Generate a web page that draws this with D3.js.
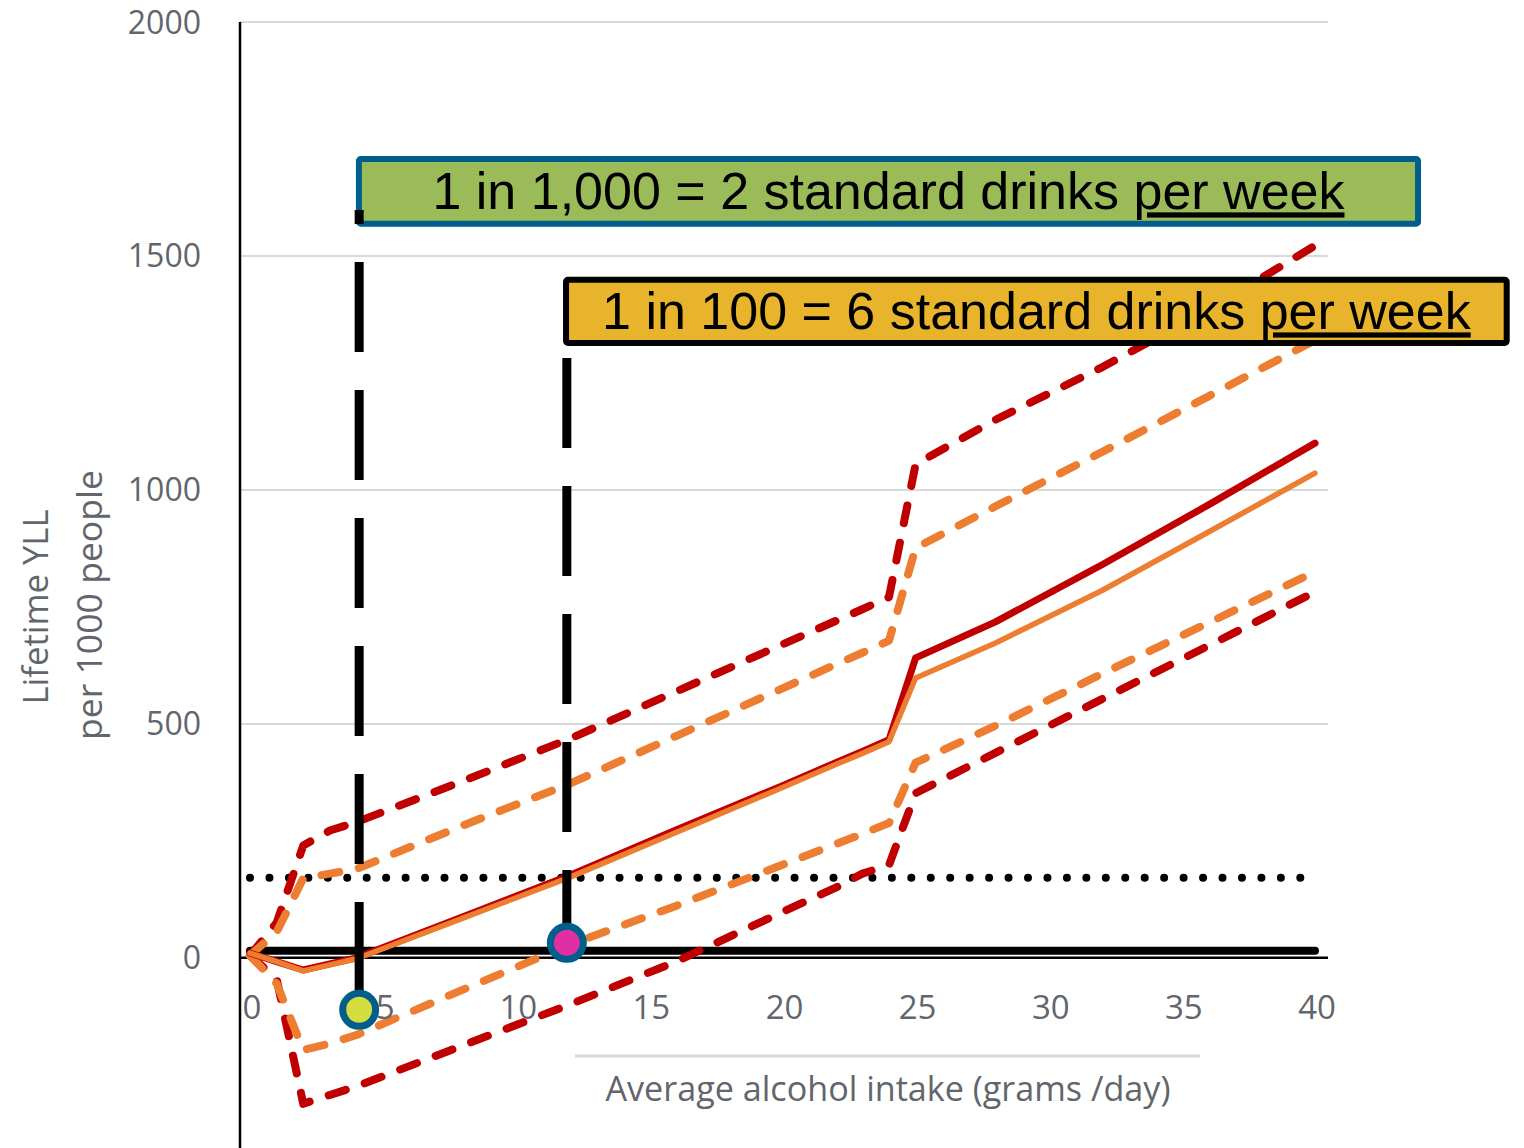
<!DOCTYPE html>
<html>
<head>
<meta charset="utf-8">
<script src="https://cdn.jsdelivr.net/npm/d3@7"></script>
<style>
  body { margin: 0; background: #fff; }
  svg { display: block; }
</style>
</head>
<body>
<div id="chart"></div>
<script>
// average intake (g/day) and lifetime YLL per 1000 people
const intake      = [0, 1, 2, 3, 4, 8, 12, 16, 20, 22, 23, 24, 25, 28, 32, 36, 40];
const redMean     = [10, -8, -26, -13, 0, 88, 176, 273, 368, 417, 441, 466, 641, 718, 840, 968, 1100];
const orangeMean  = [10, -8, -28, -15, -2, 85, 172, 268, 364, 413, 437, 462, 598, 673, 785, 910, 1036];
const redUpper    = [5, 75, 240, 272, 290, 378, 468, 569, 670, 720, 745, 771, 1055, 1150, 1262, 1385, 1522];
const redLower    = [5, -45, -312, -293, -275, -187, -100, -8, 98, 150, 180, 198, 352, 438, 553, 667, 782];
const orangeUpper = [5, 55, 170, 180, 190, 283, 372, 474, 576, 627, 652, 678, 876, 965, 1081, 1200, 1320];
const orangeLower = [5, -55, -197, -183, -165, -68, 28, 111, 199, 243, 265, 288, 417, 496, 607, 716, 825];

const xTicks = [0, 5, 10, 15, 20, 25, 30, 35, 40];
const yTicks = [0, 500, 1000, 1500, 2000];

const dottedLevel = 171;
const zeroBand = 15;

const markerX = [4.1, 11.9];
const markerY = [-111, 32];
const markerFill = ["#d4dc3e", "#e02ea3"];

const boxText = ["1 in 1,000 = 2 standard drinks ", "1 in 100 = 6 standard drinks "];
const boxUnder = ["per week", "per week"];
const boxX = [[4.09, 43.87], [11.87, 47.2]];
const boxY = [[1707, 1569], [1449, 1314]];
const boxFill = ["#9bbb59", "#e8b42b"];
const boxStroke = ["#005e8a", "#000000"];
const guideTop = [1598, 1314];

const width = 1524, height = 1148;

const svg = d3.select("#chart").append("svg")
  .attr("width", width)
  .attr("height", height);

const x = d3.scaleLinear().domain([0, 40]).range([250, 1315]);
const y = d3.scaleLinear().domain([-400, 2000]).range([1145, 22]);

const plotLeft = 240, plotRight = 1328;
const grey = "#62656c";

// gridlines
svg.selectAll(".grid")
  .data(yTicks.filter(d => d > 0))
  .enter().append("line")
  .attr("x1", plotLeft).attr("x2", plotRight)
  .attr("y1", d => y(d)).attr("y2", d => y(d))
  .attr("stroke", "#d9d9d9")
  .attr("stroke-width", 2);

// axes
svg.append("line")
  .attr("x1", plotLeft).attr("x2", plotLeft)
  .attr("y1", y(2000)).attr("y2", height)
  .attr("stroke", "#000").attr("stroke-width", 2.5);

svg.append("line")
  .attr("x1", plotLeft).attr("x2", plotRight)
  .attr("y1", y(0)).attr("y2", y(0))
  .attr("stroke", "#000").attr("stroke-width", 2.5);

// thin grey rule above the x title
svg.append("line")
  .attr("x1", 575).attr("x2", 1200)
  .attr("y1", 1056).attr("y2", 1056)
  .attr("stroke", "#d9d9d9").attr("stroke-width", 3);

// reference levels
svg.append("line")
  .attr("x1", x(0)).attr("x2", x(40))
  .attr("y1", y(zeroBand)).attr("y2", y(zeroBand))
  .attr("stroke", "#000").attr("stroke-width", 8)
  .attr("stroke-linecap", "round");

svg.append("line")
  .attr("x1", x(0)).attr("x2", x(39.8))
  .attr("y1", y(dottedLevel)).attr("y2", y(dottedLevel))
  .attr("stroke", "#000").attr("stroke-width", 8)
  .attr("stroke-dasharray", "0 19.45")
  .attr("stroke-linecap", "round");

const line = d3.line()
  .x(d => x(d[0]))
  .y(d => y(d[1]));

const series = [
  { vals: redUpper, color: "#c00000", dash: true },
  { vals: redLower, color: "#c00000", dash: true },
  { vals: orangeUpper, color: "#ed7d31", dash: true },
  { vals: orangeLower, color: "#ed7d31", dash: true },
  { vals: redMean, color: "#c00000", dash: false },
  { vals: orangeMean, color: "#ed7d31", dash: false }
];

svg.selectAll(".series")
  .data(series)
  .enter().append("path")
  .attr("class", "series")
  .attr("d", s => line(intake.map((v, i) => [v, s.vals[i]])))
  .attr("fill", "none")
  .attr("stroke", s => s.color)
  .attr("stroke-width", s => s.dash ? 8 : (s.color == "#c00000" ? 7 : 5.5))
  .attr("stroke-dasharray", s => s.dash ? "18 20" : null)
  .attr("stroke-linecap", "round")
  .attr("stroke-linejoin", "round");

// tick labels
svg.selectAll(".ylab")
  .data(yTicks)
  .enter().append("text")
  .attr("x", 201)
  .attr("y", d => y(d))
  .attr("dy", "0.36em")
  .attr("text-anchor", "end")
  .attr("font-family", "'Open Sans', sans-serif")
  .attr("font-size", 32)
  .attr("fill", grey)
  .text(d => d);

svg.selectAll(".xlab")
  .data(xTicks)
  .enter().append("text")
  .attr("x", d => x(d) + 2)
  .attr("y", 1019)
  .attr("text-anchor", "middle")
  .attr("font-family", "'Open Sans', sans-serif")
  .attr("font-size", 33)
  .attr("fill", grey)
  .text(d => d);

// axis titles
svg.append("text")
  .attr("x", 888).attr("y", 1101)
  .attr("text-anchor", "middle")
  .attr("font-family", "'Open Sans', sans-serif")
  .attr("font-size", 34)
  .attr("textLength", 565)
  .attr("lengthAdjust", "spacingAndGlyphs")
  .attr("fill", grey)
  .text("Average alcohol intake (grams /day)");

const yTitle = [["Lifetime YLL", 36, 607, 195], ["per 1000 people", 90, 605, 270]];
svg.selectAll(".ytitle")
  .data(yTitle)
  .enter().append("text")
  .attr("transform", d => `translate(${d[1]},${d[2]}) rotate(-90)`)
  .attr("dy", "0.35em")
  .attr("text-anchor", "middle")
  .attr("font-family", "'Open Sans', sans-serif")
  .attr("font-size", 34)
  .attr("textLength", d => d[3])
  .attr("lengthAdjust", "spacingAndGlyphs")
  .attr("fill", grey)
  .text(d => d[0]);

// dashed black guide from a marker up to its box
function guide(i, offset) {
  svg.append("line")
    .attr("x1", x(markerX[i])).attr("x2", x(markerX[i]))
    .attr("y1", y(guideTop[i])).attr("y2", y(markerY[i]))
    .attr("stroke", "#000").attr("stroke-width", 9)
    .attr("stroke-dasharray", "90 38")
    .attr("stroke-dashoffset", offset);
}

function box(i) {
  svg.append("rect")
    .attr("x", x(boxX[i][0]))
    .attr("y", y(boxY[i][0]))
    .attr("width", x(boxX[i][1]) - x(boxX[i][0]))
    .attr("height", y(boxY[i][1]) - y(boxY[i][0]))
    .attr("rx", 2)
    .attr("fill", boxFill[i])
    .attr("stroke", boxStroke[i])
    .attr("stroke-width", 6);

  const t = svg.append("text")
    .attr("x", (x(boxX[i][0]) + x(boxX[i][1])) / 2)
    .attr("y", (y(boxY[i][0]) + y(boxY[i][1])) / 2 + 18)
    .attr("text-anchor", "middle")
    .attr("font-family", "'Liberation Sans', Arial, sans-serif")
    .attr("font-size", 52)
    .attr("fill", "#000");
  t.append("tspan").text(boxText[i]);
  t.append("tspan").attr("text-decoration", "underline").text(boxUnder[i]);
}

guide(1, 113);
box(1);
box(0);
guide(0, 76);

// markers
svg.selectAll(".marker")
  .data(markerX)
  .enter().append("circle")
  .attr("cx", d => x(d))
  .attr("cy", (d, i) => y(markerY[i]))
  .attr("r", 16.5)
  .attr("fill", (d, i) => markerFill[i])
  .attr("stroke", "#005e8a")
  .attr("stroke-width", 7);
</script>
</body>
</html>
